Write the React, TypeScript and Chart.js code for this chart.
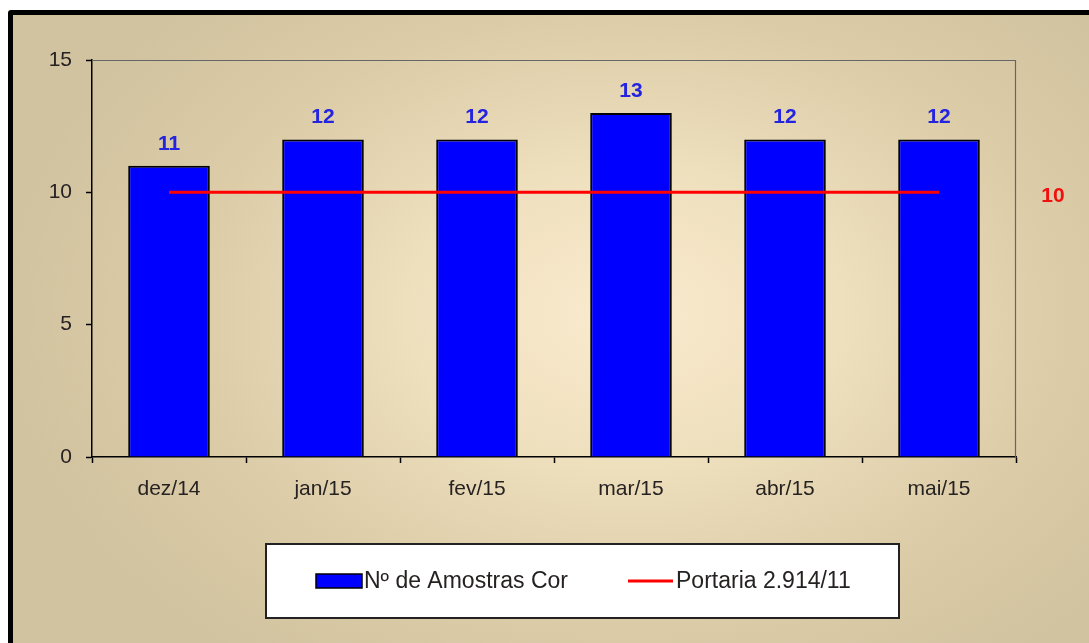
import React, { useEffect, useRef } from "react";
import { Chart, registerables } from "chart.js";

Chart.register(...registerables);

const categories = ["dez/14", "jan/15", "fev/15", "mar/15", "abr/15", "mai/15"];
const amostras = [11, 12, 12, 13, 12, 12];
const portaria = [10, 10, 10, 10, 10, 10];
const yTicks = [0, 5, 10, 15];
const barLabel = "Nº de Amostras Cor";
const lineLabel = "Portaria 2.914/11";

const FONT = "'Liberation Sans', Arial, sans-serif";

const decorPlugin = {
  id: "decor",
  afterDatasetsDraw(chart: any) {
    const ctx = chart.ctx;
    const area = chart.chartArea;
    const y = chart.scales.y;
    ctx.save();
    // top and right frame of plot area
    ctx.strokeStyle = "#666";
    ctx.lineWidth = 1.2;
    ctx.beginPath();
    ctx.moveTo(area.left, area.top + 0.5);
    ctx.lineTo(area.right - 0.5, area.top + 0.5);
    ctx.lineTo(area.right - 0.5, area.bottom);
    ctx.stroke();

    // bar value labels
    const meta = chart.getDatasetMeta(0);
    ctx.font = `bold 21px ${FONT}`;
    ctx.fillStyle = "#2323E0";
    ctx.textAlign = "center";
    ctx.textBaseline = "middle";
    meta.data.forEach((el: any, i: number) => {
      ctx.fillText(String(amostras[i]), el.x, el.y - 22);
    });

    // line value label at right
    ctx.fillStyle = "#F01010";
    ctx.fillText(String(portaria[portaria.length - 1]), area.right + 37, y.getPixelForValue(portaria[0]) + 4);

    // legend
    const lx = 266, ly = 544, lw = 633, lh = 74;
    ctx.fillStyle = "#ffffff";
    ctx.fillRect(lx, ly, lw, lh);
    ctx.strokeStyle = "#222";
    ctx.lineWidth = 2;
    ctx.strokeRect(lx, ly, lw, lh);
    const cy = 581;
    ctx.fillStyle = "#0000FF";
    ctx.fillRect(316, cy - 7, 46, 14);
    ctx.strokeStyle = "#000";
    ctx.lineWidth = 1.5;
    ctx.strokeRect(316, cy - 7, 46, 14);
    ctx.strokeStyle = "#FF0000";
    ctx.lineWidth = 3;
    ctx.beginPath();
    ctx.moveTo(628, cy);
    ctx.lineTo(673, cy);
    ctx.stroke();
    ctx.fillStyle = "#262222";
    ctx.font = `23px ${FONT}`;
    ctx.textAlign = "left";
    ctx.fillText(barLabel, 364, cy + 1);
    ctx.fillText(lineLabel, 676, cy + 1);
    ctx.restore();
  },
};

export default function App() {
  const ref = useRef<HTMLCanvasElement | null>(null);
  useEffect(() => {
    if (!ref.current) return;
    const chart = new Chart(ref.current, {
      type: "bar",
      data: {
        labels: categories,
        datasets: [
          {
            type: "bar",
            label: barLabel,
            data: amostras,
            backgroundColor: "#0000FF",
            borderColor: "#000000",
            borderWidth: 2,
            categoryPercentage: 1,
            barPercentage: 0.53,
            order: 1,
          } as any,
          {
            type: "line",
            label: lineLabel,
            data: portaria,
            borderColor: "#FF0000",
            borderWidth: 3,
            pointRadius: 0,
            fill: false,
            order: 0,
          } as any,
        ],
      },
      options: {
        responsive: false,
        animation: false,
        layout: { padding: { top: 60, right: 73, left: 0, bottom: 0 } },
        plugins: { legend: { display: false }, tooltip: { enabled: false } },
        scales: {
          x: {
            offset: true,
            grid: {
              display: true,
              offset: true,
              drawOnChartArea: false,
              drawTicks: true,
              tickLength: 6,
              tickColor: "#000",
              tickWidth: 1.5,
            },
            border: { color: "#000", width: 1.5 },
            ticks: { color: "#262222", font: { family: FONT, size: 21 }, padding: 14 },
            afterFit(scale: any) {
              scale.height = 186;
            },
          },
          y: {
            min: 0,
            max: 15,
            afterBuildTicks(scale: any) {
              scale.ticks = yTicks.map((v) => ({ value: v }));
            },
            grid: {
              display: true,
              drawOnChartArea: false,
              drawTicks: true,
              tickLength: 6,
              tickColor: "#000",
              tickWidth: 1.5,
            },
            border: { color: "#000", width: 1.5 },
            ticks: { color: "#262222", font: { family: FONT, size: 21 }, padding: 14 },
            afterFit(scale: any) {
              scale.width = 92;
            },
          },
        },
      },
      plugins: [decorPlugin],
    });
    return () => chart.destroy();
  }, []);

  return (
    <div style={{ position: "fixed", left: 0, top: 0, width: 1089, height: 643, overflow: "hidden", background: "#fff" }}>
      <div
        style={{
          position: "absolute",
          left: 8,
          top: 10,
          width: 1200,
          height: 800,
          border: "5px solid #000",
          borderRadius: 3,
          background:
            "radial-gradient(ellipse 620px 430px at 612px 300px, #FBEBCF 0%, #EEDFBD 35%, #DCCCA8 70%, #D2C3A0 100%)",
        }}
      />
      <canvas
        ref={ref}
        width={1089}
        height={643}
        style={{ position: "absolute", left: 0, top: 0, width: 1089, height: 643 }}
      />
    </div>
  );
}
